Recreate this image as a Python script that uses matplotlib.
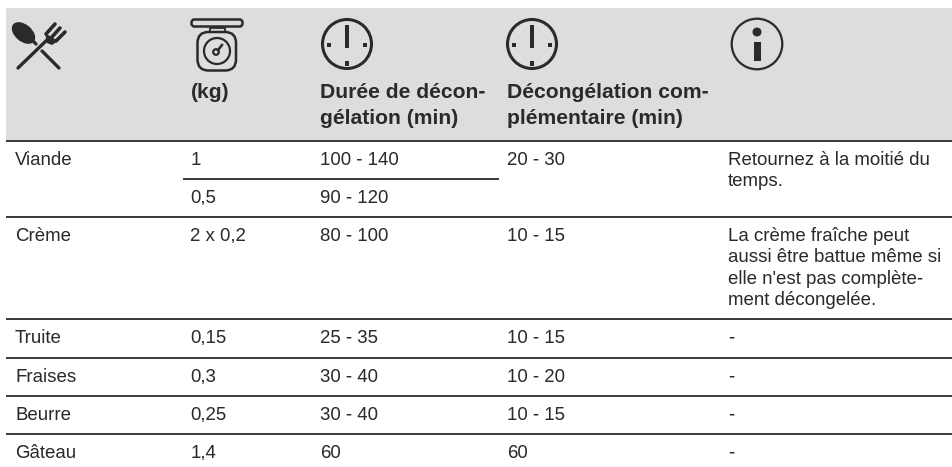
import matplotlib
matplotlib.use("Agg")
import matplotlib.pyplot as plt
from matplotlib.patches import Circle, Ellipse, FancyBboxPatch, Polygon, Rectangle

plt.rcParams['font.family'] = ['Liberation Sans', 'DejaVu Sans']
plt.rcParams['text.hinting'] = 'native'

# table contents
aliments = ["Viande", "Crème", "Truite", "Fraises", "Beurre", "Gâteau"]
poids = [["1", "0,5"], ["2 x 0,2"], ["0,15"], ["0,3"], ["0,25"], ["1,4"]]
duree = [["100 - 140", "90 - 120"], ["80 - 100"], ["25 - 35"], ["30 - 40"], ["30 - 40"], ["60"]]
complement = ["20 - 30", "10 - 15", "10 - 15", "10 - 20", "10 - 15", "60"]
infos = [["Retournez à la moitié du", "temps."],
         ["La crème fraîche peut", "aussi être battue même si", "elle n'est pas complète-", "ment décongelée."],
         ["-"], ["-"], ["-"], ["-"]]
entetes = [["(kg)"], ["Durée de décon-", "gélation (min)"], ["Décongélation com-", "plémentaire (min)"]]

# layout in pixels
col_x = [15, 190.5, 320, 507, 728]
line_y = [141, 217, 319, 357.5, 396, 434]
sub_line_y = 179
row_h = 38
info_h = 21.3
head_h = 26.5
ink = "#2a2a2c"
grey = "#dcddde"
fs = 13.4
fs_bold = 15.2

fig = plt.figure(figsize=(9.53, 4.67), dpi=100)
ax = fig.add_axes([0, 0, 1, 1])
ax.set_xlim(0, 953)
ax.set_ylim(467, 0)
ax.axis("off")

ax.add_patch(Rectangle((6, 8), 947, 132, color=grey, lw=0))
for y in line_y:
    ax.plot([6, 953], [y, y], color="#3a3a3c", lw=1.4, solid_capstyle="butt")
ax.plot([183, 499], [sub_line_y, sub_line_y], color="#3a3a3c", lw=1.4, solid_capstyle="butt")

for x, lignes in zip(col_x[1:4], entetes):
    for k, txt in enumerate(lignes):
        ax.text(x, 98 + k * head_h, txt, fontsize=fs_bold, fontweight="bold", color=ink, va="baseline")

for i, nom in enumerate(aliments):
    y = line_y[i] + 24
    ax.text(col_x[0], y, nom, fontsize=fs, color=ink, va="baseline")
    for j, (p, d) in enumerate(zip(poids[i], duree[i])):
        ax.text(col_x[1], y + j * row_h, p, fontsize=fs, color=ink, va="baseline")
        ax.text(col_x[2], y + j * row_h, d, fontsize=fs, color=ink, va="baseline")
    ax.text(col_x[3], y, complement[i], fontsize=fs, color=ink, va="baseline")
    for k, txt in enumerate(infos[i]):
        ax.text(col_x[4], y + k * info_h, txt, fontsize=fs, color=ink, va="baseline")

# spoon and fork
ax.add_patch(Ellipse((23.5, 33), 27, 17, angle=40, color=ink, lw=0))
ax.plot([30, 36], [38, 44], color=ink, lw=2.4, solid_capstyle="round")
ax.plot([42, 59], [51, 68], color=ink, lw=2.4, solid_capstyle="round")
ax.plot([18, 49], [68, 38], color=ink, lw=2.4, solid_capstyle="round")
ax.plot([46, 55], [34, 24], color=ink, lw=2.6, solid_capstyle="round")
ax.plot([51, 60], [38, 28], color=ink, lw=2.6, solid_capstyle="round")
ax.plot([56, 65], [41, 32], color=ink, lw=2.6, solid_capstyle="round")
ax.add_patch(Polygon([(45, 33), (58, 41), (52, 45), (47, 43)], color=ink, lw=0))

# scale
ax.add_patch(FancyBboxPatch((191.5, 19.5), 51, 7, boxstyle="round,pad=0,rounding_size=3",
                            fc="none", ec=ink, lw=1.8))
ax.add_patch(Rectangle((210, 28), 15, 4, fc="none", ec=ink, lw=1.3))
ax.add_patch(FancyBboxPatch((197.5, 32), 38.5, 38.5, boxstyle="round,pad=0,rounding_size=11",
                            fc="none", ec=ink, lw=1.8))
ax.add_patch(Circle((217, 51), 13, fc="none", ec=ink, lw=1.6))
ax.add_patch(Circle((216, 52), 2.8, fc="none", ec=ink, lw=1.6))
ax.plot([218, 222], [50, 45], color=ink, lw=1.8)

# clocks
for cx in [347, 532]:
    ax.add_patch(Circle((cx, 44), 24.5, fc="none", ec=ink, lw=2.2))
    ax.add_patch(Rectangle((cx - 2, 25), 4.2, 23, color=ink, lw=0))
    ax.add_patch(Rectangle((cx - 20, 42.5), 4, 4, color=ink, lw=0))
    ax.add_patch(Rectangle((cx + 16, 42.5), 4, 4, color=ink, lw=0))
    ax.add_patch(Rectangle((cx - 2, 61), 4, 4.5, color=ink, lw=0))

# info sign
ax.add_patch(Circle((757, 44), 25.3, fc="none", ec=ink, lw=1.6))
ax.add_patch(Circle((757, 32), 4.5, color=ink, lw=0))
ax.add_patch(Rectangle((754, 41.5), 7, 19.5, color=ink, lw=0))

fig.savefig("out.png", dpi=100)
